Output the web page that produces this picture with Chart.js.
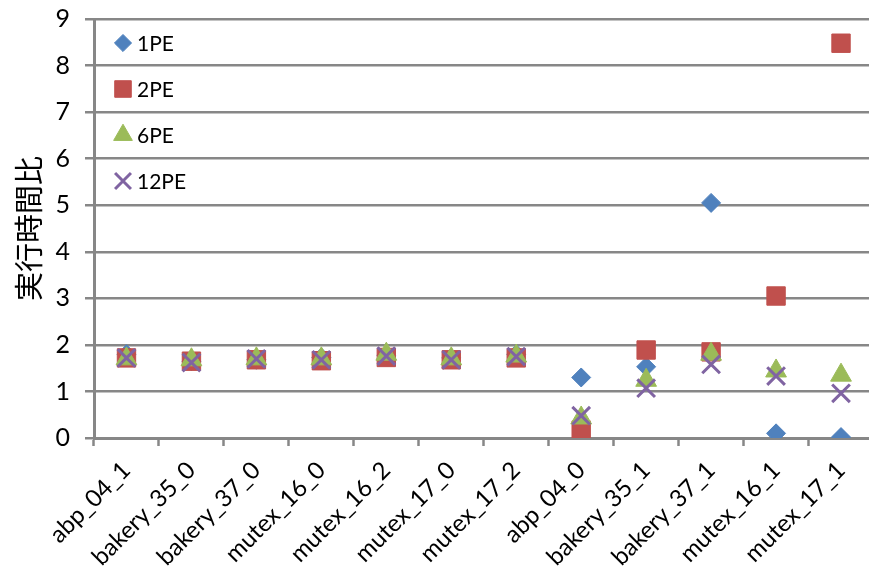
<!DOCTYPE html>
<html>
<head>
<meta charset="utf-8">
<script src="https://cdn.jsdelivr.net/npm/chart.js@4.4.1/dist/chart.umd.min.js"></script>
<style>
  html, body { margin: 0; padding: 0; background: #fff; overflow: hidden; }
  #wrap { width: 869px; height: 574px; overflow: hidden; }
  #c { display: block; }
</style>
</head>
<body>
<!-- the canvas runs a little past the frame so the plot reaches the right edge -->
<div id="wrap"><canvas id="c" width="889" height="574"></canvas></div>
<script>
// Benchmark models on the category axis
const categories = ['abp_04_1', 'bakery_35_0', 'bakery_37_0', 'mutex_16_0', 'mutex_16_2', 'mutex_17_0',
  'mutex_17_2', 'abp_04_0', 'bakery_35_1', 'bakery_37_1', 'mutex_16_1', 'mutex_17_1'];

// Execution-time ratio per number of PEs
const pe1  = [1.80, 1.65, 1.68, 1.73, 1.78, 1.72, 1.80, 1.30, 1.53, 5.05, 0.10, 0.02];
const pe2  = [1.72, 1.65, 1.68, 1.66, 1.73, 1.68, 1.72, 0.17, 1.89, 1.85, 3.05, 8.48];
const pe6  = [1.70, 1.68, 1.70, 1.70, 1.80, 1.70, 1.76, 0.43, 1.24, 1.80, 1.44, 1.35];
const pe12 = [1.72, 1.62, 1.70, 1.68, 1.76, 1.68, 1.75, 0.48, 1.07, 1.58, 1.33, 0.96];

const seriesNames = ['1PE', '2PE', '6PE', '12PE'];
const yTicks = [0, 1, 2, 3, 4, 5, 6, 7, 8, 9];

const GRID = '#878787';
const FONT = 'Lato, "Liberation Sans", sans-serif';

function series(label, data, color, style, radius, bw, order) {
  return {
    label, data, order,
    showLine: false,
    pointStyle: style,
    pointRadius: radius,
    pointHoverRadius: radius,
    pointBackgroundColor: color,
    pointBorderColor: color,
    pointBorderWidth: bw,
    backgroundColor: color,
    borderColor: color
  };
}

// Legend drawn inside the plot, top-left, one entry per gridline band
const innerLegend = {
  id: 'innerLegend',
  afterDatasetsDraw(chart) {
    const ctx = chart.ctx;
    const x0 = chart.chartArea.left + 29;
    const yStart = 43, step = 46;
    ctx.save();
    chart.data.datasets.forEach((ds, i) => {
      const y = yStart + i * step;
      ctx.fillStyle = ds.pointBackgroundColor;
      ctx.strokeStyle = ds.pointBorderColor;
      ctx.lineWidth = ds.pointBorderWidth;
      Chart.helpers.drawPoint(ctx, {
        pointStyle: ds.pointStyle,
        radius: ds.pointRadius * 0.9,
        borderWidth: ds.pointBorderWidth,
        rotation: 0
      }, x0, y);
      ctx.fillStyle = '#000';
      ctx.font = '21px ' + FONT;
      ctx.textBaseline = 'middle';
      ctx.textAlign = 'left';
      ctx.fillText(ds.label, x0 + 14, y + 1);
    });
    ctx.restore();
  }
};

new Chart(document.getElementById('c'), {
  type: 'line',
  data: {
    labels: categories,
    datasets: [
      series(seriesNames[0], pe1, '#4F81BD', 'rectRot', 9.5, 1, 4),
      series(seriesNames[1], pe2, '#C0504D', 'rect', 13, 1, 3),
      series(seriesNames[2], pe6, '#9BBB59', 'triangle', 12, 1, 2),
      series(seriesNames[3], pe12, '#8064A2', 'crossRot', 12.5, 3, 1)
    ]
  },
  options: {
    responsive: false,
    animation: false,
    events: [],
    layout: { padding: { top: 19, right: 0, left: 0, bottom: 0 } },
    plugins: {
      legend: { display: false },
      tooltip: { enabled: false }
    },
    scales: {
      x: {
        type: 'category',
        offset: true,
        grid: {
          offset: true,
          drawOnChartArea: false,
          drawTicks: true,
          tickLength: 8,
          tickWidth: 2.5,
          tickColor: GRID
        },
        border: { display: true, color: GRID, width: 3 },
        ticks: {
          autoSkip: false,
          minRotation: 45,
          maxRotation: 45,
          padding: 10,
          color: '#000',
          font: { family: FONT, size: 24 }
        },
        afterFit(scale) {
          scale.height = 136;
        }
      },
      y: {
        min: 0,
        max: 9,
        afterBuildTicks(scale) { scale.ticks = yTicks.map(v => ({ value: v })); },
        grid: {
          color: GRID,
          lineWidth: 2.5,
          drawTicks: true,
          tickLength: 9,
          tickColor: GRID
        },
        border: { display: true, color: GRID, width: 3 },
        ticks: {
          padding: 15,
          color: '#000',
          font: { family: FONT, size: 25 }
        },
        title: {
          display: true,
          text: '実行時間比',
          color: '#000',
          padding: { top: 12, bottom: 0 },
          font: { family: '"Noto Sans CJK JP", sans-serif', size: 29 }
        },
        afterFit(scale) {
          scale.width = 94;
          scale.paddingTop = 0;
          scale.paddingBottom = 0;
        }
      }
    }
  },
  plugins: [innerLegend]
});
</script>
</body>
</html>
